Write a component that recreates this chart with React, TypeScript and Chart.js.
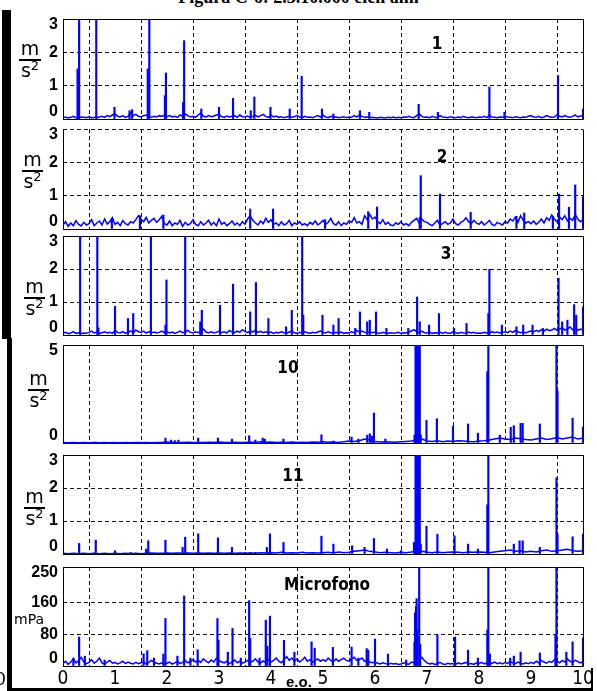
import React, { useEffect, useRef } from "react";
import { Chart, registerables } from "chart.js";

Chart.register(...registerables);

const BLUE = "#0000ff";
const X_MAX = 10;
const xTickValues = [0, 1, 2, 3, 4, 5, 6, 7, 8, 9, 10];

// ---- Panel 1 ----
const p1Ticks = [0, 1, 2, 3];
const p1Noise = [
  0.04, 0.06, 0.03, 0.05, 0.08, 0.04, 0.03, 0.06, 0.05, 0.04, 0.07, 0.03, 0.05, 0.04, 0.06, 0.08, 0.05, 0.10, 0.07, 0.12,
  0.16, 0.08, 0.06, 0.10, 0.05, 0.08, 0.18, 0.10, 0.14, 0.08, 0.06, 0.10, 0.12, 0.07, 0.05, 0.08, 0.06, 0.10, 0.08, 0.12,
  0.07, 0.10, 0.06, 0.08, 0.05, 0.12, 0.08, 0.15, 0.10, 0.06, 0.08, 0.05, 0.12, 0.18, 0.08, 0.06, 0.10, 0.07, 0.09, 0.12,
  0.14, 0.07, 0.05, 0.09, 0.06, 0.08, 0.10, 0.05, 0.12, 0.07, 0.06, 0.09, 0.05, 0.08, 0.11, 0.06, 0.10, 0.14, 0.07, 0.05,
  0.12, 0.06, 0.09, 0.05, 0.07, 0.04, 0.06, 0.08, 0.05, 0.07, 0.10, 0.06, 0.04, 0.08, 0.05, 0.06, 0.04, 0.07, 0.10, 0.06,
  0.12, 0.06, 0.04, 0.08, 0.05, 0.06, 0.04, 0.05, 0.07, 0.04, 0.06, 0.05, 0.10, 0.06, 0.12, 0.08, 0.05, 0.06, 0.04, 0.05,
  0.04, 0.03, 0.05, 0.04, 0.03, 0.05, 0.04, 0.06, 0.03, 0.05, 0.04, 0.06, 0.05, 0.08, 0.05, 0.04, 0.10, 0.16, 0.08, 0.05,
  0.06, 0.04, 0.08, 0.05, 0.04, 0.10, 0.06, 0.05, 0.04, 0.07, 0.05, 0.04, 0.06, 0.04, 0.08, 0.05, 0.04, 0.06, 0.05, 0.04,
  0.06, 0.05, 0.08, 0.04, 0.12, 0.06, 0.05, 0.04, 0.06, 0.05, 0.08, 0.06, 0.05, 0.04, 0.07, 0.05, 0.04, 0.06, 0.05, 0.08,
  0.10, 0.06, 0.05, 0.08, 0.04, 0.06, 0.10, 0.07, 0.05, 0.06, 0.12, 0.08, 0.06, 0.10, 0.07, 0.05, 0.08, 0.12, 0.06, 0.09,
  0.10,
];
const p1Spikes = [
  [0.28, 1.5], [0.31, 3.5], [0.64, 3.5], [0.99, 0.35], [1.28, 0.25], [1.33, 0.28],
  [1.63, 1.5], [1.66, 3.5], [1.96, 0.7], [1.98, 1.38], [2.31, 0.5], [2.33, 2.35],
  [2.66, 0.3], [3.0, 0.35], [3.27, 0.62], [3.61, 0.25], [3.68, 0.66], [3.99, 0.35],
  [4.36, 0.3], [4.59, 1.28], [4.98, 0.3], [5.2, 0.15], [5.71, 0.25], [5.89, 0.2],
  [6.84, 0.44], [7.21, 0.2], [8.2, 0.96], [8.49, 0.2], [9.52, 1.3], [10.0, 0.3],
];

// ---- Panel 2 ----
const p2Ticks = [0, 1, 2, 3];
const p2Noise = [
  0.12, 0.22, 0.08, 0.18, 0.10, 0.25, 0.14, 0.09, 0.20, 0.12, 0.16, 0.28, 0.10, 0.18, 0.24, 0.12, 0.30, 0.15, 0.22, 0.34,
  0.14, 0.20, 0.10, 0.25, 0.16, 0.12, 0.22, 0.18, 0.28, 0.40, 0.30, 0.22, 0.35, 0.18, 0.26, 0.32, 0.20, 0.28, 0.38, 0.16,
  0.12, 0.24, 0.10, 0.18, 0.14, 0.26, 0.08, 0.20, 0.12, 0.16, 0.28, 0.14, 0.10, 0.22, 0.12, 0.18, 0.26, 0.12, 0.20, 0.10,
  0.30, 0.14, 0.20, 0.10, 0.16, 0.24, 0.12, 0.18, 0.10, 0.22, 0.14, 0.30, 0.40, 0.26, 0.18, 0.12, 0.24, 0.16, 0.32, 0.20,
  0.28, 0.14, 0.18, 0.10, 0.22, 0.12, 0.16, 0.26, 0.10, 0.18, 0.14, 0.22, 0.12, 0.16, 0.10, 0.20, 0.14, 0.24, 0.12, 0.18,
  0.26, 0.14, 0.20, 0.32, 0.16, 0.12, 0.22, 0.10, 0.18, 0.14, 0.24, 0.20, 0.34, 0.18, 0.22, 0.14, 0.40, 0.28, 0.44, 0.30,
  0.36, 0.22, 0.16, 0.28, 0.14, 0.20, 0.12, 0.10, 0.18, 0.14, 0.22, 0.12, 0.16, 0.10, 0.20, 0.26, 0.32, 0.18, 0.30, 0.22,
  0.20, 0.14, 0.10, 0.18, 0.26, 0.12, 0.16, 0.22, 0.14, 0.18, 0.30, 0.16, 0.12, 0.20, 0.24, 0.34, 0.22, 0.16, 0.26, 0.18,
  0.14, 0.22, 0.12, 0.18, 0.26, 0.14, 0.10, 0.20, 0.16, 0.12, 0.22, 0.18, 0.30, 0.24, 0.36, 0.20, 0.40, 0.26, 0.18, 0.22,
  0.16, 0.24, 0.14, 0.20, 0.30, 0.18, 0.34, 0.26, 0.42, 0.30, 0.22, 0.36, 0.28, 0.40, 0.24, 0.32, 0.26, 0.44, 0.30, 0.22,
  0.28,
];
const p2Spikes = [
  [0.94, 0.32], [1.48, 0.4], [1.93, 0.42], [3.6, 0.6], [4.04, 0.6], [5.04, 0.28],
  [5.87, 0.52], [6.04, 0.66], [6.86, 0.35], [6.88, 1.6], [7.25, 1.05], [7.84, 0.5],
  [8.72, 0.38], [8.87, 0.48], [9.42, 0.38], [9.54, 1.05], [9.73, 0.65], [9.85, 1.32],
  [10.0, 0.97],
];

// ---- Panel 3 ----
const p3Ticks = [0, 1, 2, 3];
const p3Noise = [
  0.05, 0.08, 0.04, 0.06, 0.10, 0.05, 0.07, 0.04, 0.06, 0.05, 0.08, 0.12, 0.06, 0.09, 0.05, 0.07, 0.10, 0.06, 0.08, 0.05,
  0.14, 0.08, 0.06, 0.10, 0.05, 0.09, 0.12, 0.07, 0.15, 0.10, 0.08, 0.12, 0.06, 0.10, 0.07, 0.09, 0.06, 0.08, 0.12, 0.07,
  0.10, 0.06, 0.09, 0.05, 0.08, 0.12, 0.07, 0.10, 0.14, 0.08, 0.06, 0.10, 0.07, 0.12, 0.18, 0.09, 0.07, 0.10, 0.06, 0.08,
  0.12, 0.07, 0.10, 0.06, 0.14, 0.09, 0.07, 0.12, 0.08, 0.16, 0.10, 0.07, 0.12, 0.09, 0.15, 0.08, 0.11, 0.07, 0.10, 0.06,
  0.09, 0.05, 0.08, 0.06, 0.10, 0.07, 0.05, 0.09, 0.12, 0.07, 0.05, 0.08, 0.06, 0.10, 0.07, 0.05, 0.08, 0.06, 0.09, 0.12,
  0.08, 0.06, 0.10, 0.07, 0.05, 0.08, 0.06, 0.09, 0.05, 0.07, 0.06, 0.10, 0.07, 0.14, 0.09, 0.12, 0.08, 0.06, 0.10, 0.07,
  0.09, 0.06, 0.05, 0.08, 0.06, 0.05, 0.07, 0.05, 0.06, 0.08, 0.05, 0.07, 0.06, 0.09, 0.12, 0.16, 0.10, 0.08, 0.12, 0.07,
  0.06, 0.08, 0.05, 0.07, 0.06, 0.09, 0.05, 0.08, 0.06, 0.05, 0.10, 0.07, 0.05, 0.08, 0.06, 0.05, 0.09, 0.06, 0.08, 0.05,
  0.06, 0.05, 0.08, 0.06, 0.05, 0.10, 0.07, 0.09, 0.06, 0.08, 0.10, 0.07, 0.12, 0.08, 0.14, 0.10, 0.07, 0.09, 0.06, 0.10,
  0.12, 0.09, 0.14, 0.10, 0.16, 0.12, 0.18, 0.13, 0.15, 0.20, 0.14, 0.18, 0.22, 0.15, 0.19, 0.24, 0.16, 0.20, 0.14, 0.18,
  0.16,
];
const p3Spikes = [
  [0.33, 3.5], [0.66, 3.5], [0.68, 0.22], [1.0, 0.87], [1.25, 0.5], [1.35, 0.65],
  [1.69, 3.5], [1.97, 0.3], [1.99, 1.67], [2.35, 3.5], [2.64, 0.4], [2.67, 0.75],
  [3.02, 0.9], [3.27, 1.54], [3.6, 0.7], [3.71, 1.59], [3.95, 0.5], [4.29, 0.25],
  [4.4, 0.75], [4.6, 3.5], [4.62, 0.6], [4.99, 0.6], [5.2, 0.3], [5.3, 0.5],
  [5.62, 0.2], [5.71, 0.7], [5.85, 0.4], [5.9, 0.45], [6.02, 0.7], [6.22, 0.2],
  [6.64, 0.2], [6.81, 1.15], [6.86, 0.4], [7.04, 0.3], [7.23, 0.65], [7.52, 0.2],
  [7.76, 0.35], [8.18, 0.65], [8.2, 1.99], [8.44, 0.3], [8.72, 0.25], [8.85, 0.3],
  [9.03, 0.3], [9.23, 0.2], [9.53, 1.72], [9.6, 0.4], [9.7, 0.45], [9.83, 0.92],
  [9.87, 0.6], [10.0, 0.85],
];

// ---- Panel 10 ----
const p10Ticks = [0, 5];
const p10Noise = [
  0.02, 0.01, 0.02, 0.01, 0.02, 0.01, 0.02, 0.01, 0.02, 0.01,
  0.02, 0.01, 0.02, 0.01, 0.02, 0.01, 0.02, 0.01, 0.02, 0.03,
  0.05, 0.02, 0.03, 0.02, 0.04, 0.02, 0.03, 0.02, 0.04, 0.02,
  0.05, 0.02, 0.03, 0.04, 0.02, 0.03, 0.05, 0.03, 0.06, 0.04,
  0.05, 0.02, 0.04, 0.03, 0.05, 0.02, 0.04, 0.03, 0.05, 0.04,
  0.06, 0.04, 0.05, 0.03, 0.06, 0.10, 0.08, 0.12, 0.20, 0.15,
  0.08, 0.05, 0.06, 0.05, 0.04, 0.06, 0.08, 0.10, 0.15, 0.20,
  0.10, 0.08, 0.12, 0.06, 0.10, 0.08, 0.12, 0.10, 0.08, 0.06,
  0.10, 0.12, 0.15, 0.20, 0.25, 0.20, 0.18, 0.25, 0.22, 0.18,
  0.15, 0.20, 0.25, 0.18, 0.22, 0.28, 0.20, 0.25, 0.30, 0.20,
  0.25,
];
const p10Spikes = [
  [0.63, 0.05], [1.48, 0.05], [1.97, 0.25], [2.08, 0.15], [2.15, 0.12], [2.22, 0.15],
  [2.6, 0.25], [2.98, 0.25], [3.25, 0.2], [3.58, 0.37], [3.7, 0.15], [3.84, 0.25],
  [3.88, 0.2], [4.24, 0.2], [4.97, 0.42], [5.2, 0.1], [5.55, 0.3], [5.68, 0.2],
  [5.85, 0.4], [5.9, 0.47], [5.94, 0.35], [5.98, 1.53], [6.2, 0.2], [6.76, 0.4],
  [6.78, 5.5], [6.79, 5.5], [6.80, 5.5], [6.81, 5.5], [6.82, 5.5], [6.83, 5.5],
  [6.84, 5.5], [6.85, 5.5], [6.86, 5.5], [6.88, 0.4], [6.99, 1.15],
  [7.19, 1.24], [7.5, 0.85], [7.79, 0.97], [7.98, 0.5], [8.16, 3.64], [8.18, 5.5],
  [8.4, 0.4], [8.61, 0.8], [8.67, 0.88], [8.8, 1.0], [8.84, 1.0], [9.17, 0.97],
  [9.49, 5.5], [9.51, 2.66], [9.8, 1.27], [10.0, 0.81],
];

// ---- Panel 11 ----
const p11Ticks = [0, 1, 2, 3];
const p11Noise = [
  0.02, 0.01, 0.02, 0.01, 0.02, 0.01, 0.02, 0.01, 0.02, 0.01,
  0.02, 0.01, 0.02, 0.01, 0.02, 0.01, 0.02, 0.03, 0.02, 0.02,
  0.03, 0.02, 0.03, 0.02, 0.03, 0.02, 0.03, 0.02, 0.03, 0.02,
  0.03, 0.02, 0.03, 0.02, 0.03, 0.02, 0.03, 0.02, 0.04, 0.03,
  0.04, 0.03, 0.05, 0.03, 0.04, 0.03, 0.05, 0.03, 0.04, 0.03,
  0.04, 0.05, 0.03, 0.06, 0.04, 0.05, 0.08, 0.10, 0.12, 0.08,
  0.06, 0.04, 0.05, 0.04, 0.03, 0.05, 0.04, 0.06, 0.10, 0.08,
  0.05, 0.04, 0.06, 0.04, 0.05, 0.06, 0.05, 0.04, 0.06, 0.05,
  0.06, 0.05, 0.04, 0.06, 0.08, 0.10, 0.12, 0.08, 0.10, 0.06,
  0.08, 0.06, 0.10, 0.12, 0.08, 0.10, 0.12, 0.14, 0.10, 0.08,
  0.10,
];
const p11Spikes = [
  [0.31, 0.32], [0.63, 0.42], [1.0, 0.1], [1.3, 0.05], [1.6, 0.15], [1.64, 0.4],
  [1.97, 0.42], [2.3, 0.2], [2.35, 0.51], [2.6, 0.61], [2.98, 0.49], [3.25, 0.2],
  [3.5, 0.05], [3.6, 0.05], [3.7, 0.05], [3.92, 0.2], [3.98, 0.61], [4.24, 0.35],
  [4.97, 0.54], [5.2, 0.3], [5.56, 0.25], [5.8, 0.2], [5.98, 0.47], [6.23, 0.15],
  [6.5, 0.1], [6.75, 0.35], [6.78, 3.5], [6.79, 3.5], [6.80, 3.5], [6.81, 3.5],
  [6.82, 3.5], [6.83, 3.5], [6.84, 3.5], [6.85, 3.5], [6.86, 3.5],
  [6.88, 0.3], [6.99, 0.84], [7.2, 0.6], [7.53, 0.55], [7.79, 0.3], [7.98, 0.15],
  [8.16, 1.49], [8.18, 3.5], [8.67, 0.3], [8.78, 0.4], [8.84, 0.4], [9.17, 0.2],
  [9.49, 2.31], [9.51, 0.6], [9.8, 0.52], [10.0, 0.6],
];

// ---- Microfono (mPa) ----
const micTicks = [0, 80, 160, 250];
const micNoise = [
  6, 12, 4, 10, 18, 8, 14, 22, 10, 6, 9, 16, 7, 12, 20, 8, 5, 10, 14, 7,
  9, 5, 8, 12, 6, 10, 7, 5, 9, 6, 8, 11, 5, 9, 14, 10, 7, 5, 8, 6,
  7, 10, 5, 8, 12, 6, 9, 14, 8, 12, 16, 10, 14, 9, 18, 12, 8, 15, 10, 20,
  14, 10, 8, 12, 6, 10, 15, 8, 12, 7, 10, 14, 9, 12, 18, 10, 8, 13, 9, 16,
  10, 14, 20, 12, 8, 16, 24, 14, 20, 12, 18, 10, 15, 22, 12, 16, 10, 14, 18, 12,
  16, 12, 20, 14, 10, 18, 12, 16, 20, 14, 12, 18, 22, 14, 16, 20, 12, 15, 10, 8,
  10, 7, 5, 8, 6, 4, 7, 5, 6, 4, 5, 8, 6, 4, 10, 8, 12, 18, 22, 14,
  8, 5, 7, 4, 6, 9, 5, 4, 7, 5, 6, 4, 8, 5, 7, 9, 5, 6, 4, 8,
  6, 9, 5, 8, 4, 7, 10, 6, 8, 5, 9, 6, 12, 8, 6, 10, 7, 5, 8, 6,
  9, 6, 12, 8, 14, 10, 7, 12, 9, 16, 12, 8, 14, 10, 18, 12, 9, 15, 11, 8,
  10,
];
const micSpikes = [
  [0.2, 20], [0.31, 73], [0.42, 25], [0.8, 15], [1.55, 31], [1.62, 39], [1.75, 20],
  [1.93, 30], [1.97, 120], [2.2, 25], [2.33, 177], [2.45, 20], [2.59, 41], [2.97, 120],
  [2.99, 65], [3.17, 35], [3.26, 95], [3.42, 20], [3.58, 165], [3.6, 70], [3.78, 20],
  [3.9, 116], [3.93, 50], [3.98, 126], [4.25, 65], [4.45, 35], [4.78, 61], [4.84, 45],
  [5.19, 47], [5.55, 48], [5.68, 20], [5.84, 44], [5.87, 40], [6.0, 68], [6.25, 30],
  [6.6, 15], [6.76, 60], [6.77, 134], [6.78, 134], [6.79, 150], [6.8, 170], [6.81, 90],
  [6.85, 260], [6.87, 55], [7.2, 79], [7.54, 73],
  [7.79, 40], [7.98, 20], [8.16, 91], [8.18, 260], [8.21, 30], [8.6, 20], [8.67, 25],
  [8.8, 35], [9.17, 33], [9.47, 80], [9.49, 260], [9.68, 35], [9.8, 61], [10.0, 71],
];

type PanelCfg = {
  top: number;
  bottom: number;
  ymax: number;
  ticks: number[];
  noise: number[];
  spikes: number[][];
  last?: boolean;
  noTopBorder?: boolean;
};

const PANELS: PanelCfg[] = [
  { top: 19, bottom: 119, ymax: 3, ticks: p1Ticks, noise: p1Noise, spikes: p1Spikes },
  { top: 129, bottom: 229, ymax: 3, ticks: p2Ticks, noise: p2Noise, spikes: p2Spikes, noTopBorder: true },
  { top: 236, bottom: 335, ymax: 3, ticks: p3Ticks, noise: p3Noise, spikes: p3Spikes },
  { top: 345, bottom: 443, ymax: 5, ticks: p10Ticks, noise: p10Noise, spikes: p10Spikes },
  { top: 455, bottom: 554, ymax: 3, ticks: p11Ticks, noise: p11Noise, spikes: p11Spikes },
  { top: 567, bottom: 666, ymax: 250, ticks: micTicks, noise: micNoise, spikes: micSpikes, last: true },
];

const PLOT_RIGHT = 583;
const PLOT_LEFT = 63;
const W = 597;
const PAD = 9;
const XAXIS_H = 26;

const TICK_FONT = 'bold 16px "Liberation Sans", Arial, sans-serif';
const XTICK_FAMILY = '"Liberation Sans Narrow", "DejaVu Sans Condensed", "Liberation Sans", sans-serif';

function PanelChart({ cfg }: { cfg: PanelCfg }) {
  const ref = useRef<HTMLCanvasElement | null>(null);
  const plotH = cfg.bottom - cfg.top;
  const h = PAD + plotH + (cfg.last ? XAXIS_H : PAD);

  useEffect(() => {
    const canvas = ref.current;
    if (!canvas) return;

    const boxPlugin = {
      id: "boxPlugin",
      beforeDatasetsDraw(chart: any) {
        const { ctx, chartArea } = chart;
        const l = Math.round(chartArea.left) + 0.5;
        const r = Math.round(chartArea.right) + 0.5;
        const t = Math.round(chartArea.top) + 0.5;
        const b = Math.round(chartArea.bottom) + 0.5;
        ctx.save();
        ctx.strokeStyle = "#000";
        ctx.lineWidth = 1;
        ctx.beginPath();
        if (!cfg.noTopBorder) {
          ctx.moveTo(l, t);
          ctx.lineTo(r, t);
        }
        ctx.moveTo(r, t);
        ctx.lineTo(r, b);
        ctx.lineTo(l, b);
        ctx.lineTo(l, t);
        ctx.stroke();
        ctx.restore();
      },
    };

    const yLabelPlugin = {
      id: "yLabelPlugin",
      afterDraw(chart: any) {
        const { ctx, chartArea } = chart;
        const ys = chart.scales.y;
        ctx.save();
        ctx.font = TICK_FONT;
        ctx.fillStyle = "#000";
        ctx.textAlign = "right";
        ctx.textBaseline = "middle";
        for (const v of cfg.ticks) {
          let y = ys.getPixelForValue(v);
          y = Math.max(chartArea.top + 6, Math.min(chartArea.bottom - 7, y));
          ctx.fillText(String(v), 58, y);
        }
        ctx.restore();
      },
    };

    const gridCommon = { color: "#111", lineWidth: 1, drawTicks: false };
    const step = X_MAX / (cfg.noise.length - 1);

    const chart = new Chart(canvas, {
      type: "bar",
      data: {
        datasets: [
          {
            type: "line",
            data: cfg.noise.map((v, i) => ({ x: i * step, y: v })),
            borderColor: BLUE,
            borderWidth: 1.5,
            pointRadius: 0,
            tension: 0,
            order: 2,
          } as any,
          {
            type: "bar",
            data: cfg.spikes.map(([x, y]) => ({ x, y })),
            backgroundColor: BLUE,
            borderWidth: 0,
            barThickness: 1.5,
            order: 1,
          } as any,
        ],
      },
      options: {
        responsive: false,
        maintainAspectRatio: false,
        animation: false,
        events: [],
        layout: {
          padding: { top: PAD, bottom: cfg.last ? 0 : PAD, left: 0, right: W - PLOT_RIGHT },
        },
        plugins: { legend: { display: false }, tooltip: { enabled: false } },
        scales: {
          x: {
            type: "linear",
            min: 0,
            max: X_MAX,
            offset: false,
            afterBuildTicks: (s: any) => {
              s.ticks = xTickValues.map((v) => ({ value: v }));
            },
            ticks: {
              display: !!cfg.last,
              color: "#000",
              padding: 2,
              maxRotation: 0,
              autoSkip: false,
              font: { family: XTICK_FAMILY, size: 19 },
            },
            grid: gridCommon,
            border: { display: false, dash: [4, 3] },
            afterFit: (s: any) => {
              s.height = cfg.last ? XAXIS_H : 0;
            },
          },
          y: {
            type: "linear",
            min: 0,
            max: cfg.ymax,
            afterBuildTicks: (s: any) => {
              s.ticks = cfg.ticks.map((v) => ({ value: v }));
            },
            ticks: { display: false },
            grid: gridCommon,
            border: { display: false, dash: [4, 3] },
            afterFit: (s: any) => {
              s.width = PLOT_LEFT;
            },
          },
        },
      } as any,
      plugins: [boxPlugin, yLabelPlugin],
    });
    return () => chart.destroy();
  }, []);

  return (
    <canvas
      ref={ref}
      width={W}
      height={h}
      style={{ position: "absolute", left: 0, top: cfg.top - PAD, width: W, height: h, display: "block" }}
    />
  );
}

const fracFont = '19px "DejaVu Sans", Verdana, sans-serif';

function Frac({ cy, left, width }: { cy: number; left: number; width: number }) {
  return (
    <>
      <div style={{ position: "absolute", left: left - 4, width: width + 8, top: cy - 21, textAlign: "center", font: fracFont, lineHeight: "19px" }}>m</div>
      <div style={{ position: "absolute", left, width, top: cy - 1, height: 2, background: "#000" }} />
      <div style={{ position: "absolute", left: left - 4, width: width + 8, top: cy + 1, textAlign: "center", font: fracFont, lineHeight: "19px" }}>
        s<span style={{ fontSize: 13, position: "relative", top: -7 }}>2</span>
      </div>
    </>
  );
}

const labelFont = 'bold 17px "Liberation Sans Narrow", "DejaVu Sans Condensed", "Liberation Sans", sans-serif';

function Label({ text, cx, cy }: { text: string; cx: number; cy: number }) {
  return (
    <div
      style={{
        position: "absolute",
        left: cx - 60,
        width: 120,
        top: cy - 10,
        height: 20,
        lineHeight: "20px",
        textAlign: "center",
        font: labelFont,
        whiteSpace: "nowrap",
      }}
    >
      {text}
    </div>
  );
}

export default function App() {
  return (
    <div
      style={{
        position: "fixed",
        left: 0,
        top: 0,
        width: W,
        height: 691,
        background: "#fff",
        overflow: "hidden",
      }}
    >
      <div
        style={{
          position: "absolute",
          left: 0,
          width: W,
          top: -13,
          textAlign: "center",
          font: 'bold 18px "Liberation Serif", "Times New Roman", serif',
          whiteSpace: "nowrap",
        }}
      >
        Figura C-6: 2.3.10.000 eich alm
      </div>

      {/* left bars of the pasted figure */}
      <div style={{ position: "absolute", left: 2, top: 10, width: 9, height: 329, background: "#000" }} />
      <div style={{ position: "absolute", left: 7, top: 338, width: 5, height: 353, background: "#000" }} />

      {PANELS.map((p, i) => (
        <PanelChart key={i} cfg={p} />
      ))}

      {/* bottom frame */}
      <div style={{ position: "absolute", left: 7, top: 688, width: 586, height: 3, background: "#000" }} />
      <div style={{ position: "absolute", left: 591, top: 668, width: 6, height: 23, background: "#fff" }} />
      <div style={{ position: "absolute", left: 591, top: 668, width: 2, height: 23, background: "#000" }} />

      <Frac cy={60} left={19} width={22} />
      <Frac cy={171} left={22} width={21} />
      <Frac cy={298} left={24} width={21} />
      <Frac cy={390} left={28} width={21} />
      <Frac cy={508} left={24} width={21} />
      <div style={{ position: "absolute", left: 14, top: 611, font: '14px "DejaVu Sans", Verdana, sans-serif', lineHeight: "16px" }}>
        mPa
      </div>

      <Label text="1" cx={437} cy={43} />
      <Label text="2" cx={442} cy={156} />
      <Label text="3" cx={446} cy={253} />
      <Label text="10" cx={288} cy={367} />
      <Label text="11" cx={293} cy={475} />
      <Label text="Microfono" cx={327} cy={584} />

      <div
        style={{
          position: "absolute",
          left: 286,
          top: 673,
          font: 'bold 15px "Liberation Sans", Arial, sans-serif',
          lineHeight: "18px",
        }}
      >
        e.o.
      </div>
      <div
        style={{
          position: "absolute",
          left: -5,
          top: 669,
          font: '19px "Liberation Sans Narrow", "Liberation Sans", sans-serif',
          lineHeight: "20px",
        }}
      >
        0
      </div>
    </div>
  );
}
